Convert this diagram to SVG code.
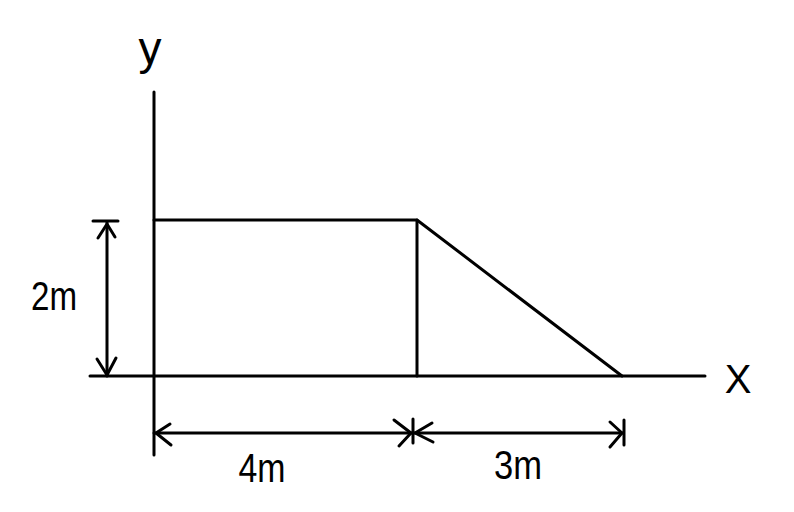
<svg xmlns="http://www.w3.org/2000/svg" width="794" height="512" viewBox="0 0 794 512">
<style>
.l{stroke:#000;stroke-width:3;fill:none;stroke-linecap:round;stroke-linejoin:round}
.t{font-family:"Liberation Sans",Arial,sans-serif;font-size:40px;fill:#000;text-anchor:middle}
</style>
<rect width="794" height="512" fill="#fff"/>
<g id="axes">
<line class="l" x1="154" y1="92" x2="154" y2="455"/>
<line class="l" x1="90" y1="376" x2="705" y2="376"/>
<text class="t" x="150" y="64" style="font-size:46px">y</text>
<text class="t" x="738" y="393">X</text>
</g>
<g id="shape">
<polyline class="l" points="154,220 417,220 622,376"/>
<line class="l" x1="417" y1="220" x2="417" y2="376"/>
</g>
<g id="connectors">
<line class="l" x1="93" y1="221" x2="118" y2="221"/>
<line class="l" x1="107" y1="222" x2="107" y2="376"/>
<polyline class="l" points="98,238 107,224 115,237"/>
<polyline class="l" points="97,359 107,375 116,358"/>
<line class="l" x1="154" y1="433" x2="623" y2="433"/>
<polyline class="l" points="170,424 156,433 171,445"/>
<polyline class="l" points="394,420 411,433 399,446"/>
<line class="l" x1="413" y1="419" x2="413" y2="443"/>
<polyline class="l" points="432,423 415,433 433,442"/>
<polyline class="l" points="610,422 622,433 610,447"/>
<line class="l" x1="624" y1="420" x2="624" y2="445"/>
</g>
<g id="labels">
<text class="t" x="54" y="310" textLength="46" lengthAdjust="spacingAndGlyphs">2m</text>
<text class="t" x="262" y="482" textLength="47" lengthAdjust="spacingAndGlyphs">4m</text>
<text class="t" x="518" y="479" textLength="48" lengthAdjust="spacingAndGlyphs">3m</text>
</g>
</svg>
